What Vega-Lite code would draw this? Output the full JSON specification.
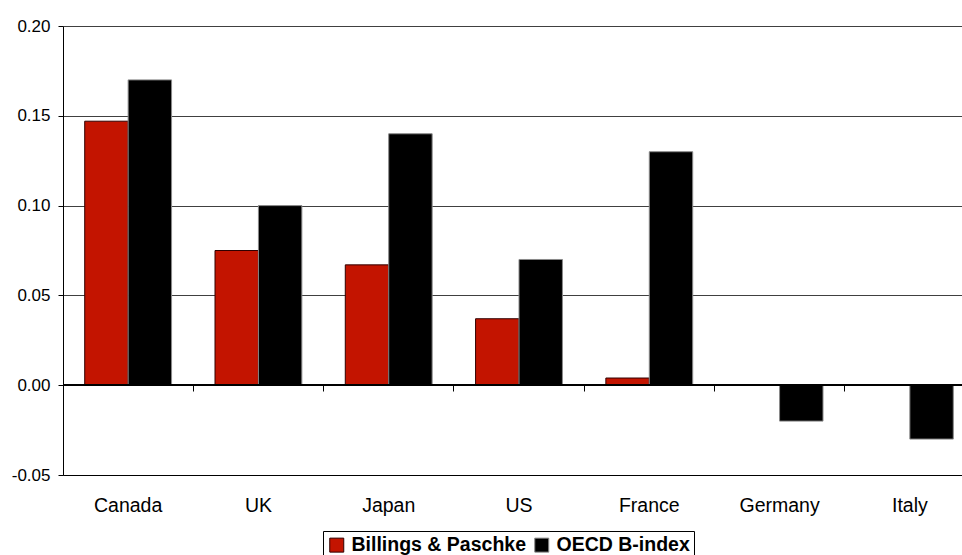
{
  "$schema": "https://vega.github.io/schema/vega-lite/v6.json",
  "width": 899,
  "height": 449,
  "autosize": {"type": "none"},
  "padding": {"left": 63, "top": 26, "right": 0, "bottom": 80},
  "background": "white",
  "config": {
    "view": {"stroke": null},
    "font": "Liberation Sans"
  },
  "data": {
    "values": [
      {"country": "Canada", "series": "Billings & Paschke", "value": 0.147},
      {"country": "Canada", "series": "OECD B-index", "value": 0.170},
      {"country": "UK", "series": "Billings & Paschke", "value": 0.075},
      {"country": "UK", "series": "OECD B-index", "value": 0.100},
      {"country": "Japan", "series": "Billings & Paschke", "value": 0.067},
      {"country": "Japan", "series": "OECD B-index", "value": 0.140},
      {"country": "US", "series": "Billings & Paschke", "value": 0.037},
      {"country": "US", "series": "OECD B-index", "value": 0.070},
      {"country": "France", "series": "Billings & Paschke", "value": 0.004},
      {"country": "France", "series": "OECD B-index", "value": 0.130},
      {"country": "Germany", "series": "OECD B-index", "value": -0.020},
      {"country": "Italy", "series": "OECD B-index", "value": -0.030}
    ]
  },
  "resolve": {"axis": {"x": "independent"}},
  "layer": [
    {
      "mark": {"type": "bar", "strokeWidth": 1},
      "encoding": {
        "x": {
          "field": "country",
          "type": "nominal",
          "scale": {
            "domain": ["Canada", "UK", "Japan", "US", "France", "Germany", "Italy"],
            "range": [0, 912],
            "paddingInner": 0,
            "paddingOuter": 0
          },
          "axis": {
            "orient": "bottom",
            "title": null,
            "labelAngle": 0,
            "labelFontSize": 19.5,
            "labelColor": "black",
            "labelPadding": 21,
            "ticks": false,
            "tickSize": 0,
            "domain": true,
            "domainColor": "black",
            "domainWidth": 1,
            "grid": false
          }
        },
        "xOffset": {
          "field": "series",
          "type": "nominal",
          "scale": {"domain": ["Billings & Paschke", "OECD B-index"], "paddingInner": 0, "paddingOuter": 0.5}
        },
        "y": {
          "field": "value",
          "type": "quantitative",
          "scale": {"domain": [-0.05, 0.2], "nice": false, "zero": false},
          "axis": {
            "title": null,
            "values": [-0.05, 0, 0.05, 0.1, 0.15, 0.2],
            "labelExpr": "datum.value < 0 ? '-' + format(-datum.value, '.2f') : format(datum.value, '.2f')",
            "labelFontSize": 17,
            "labelColor": "black",
            "labelPadding": 8,
            "tickSize": 5,
            "tickColor": "black",
            "domainColor": "black",
            "grid": true,
            "gridColor": "#404040",
            "gridOpacity": 1,
            "gridWidth": 1
          }
        },
        "fill": {
          "field": "series",
          "type": "nominal",
          "scale": {"domain": ["Billings & Paschke", "OECD B-index"], "range": ["#c31400", "#000000"]},
          "legend": {
            "title": null,
            "orient": "none",
            "legendX": 260,
            "legendY": 505,
            "direction": "horizontal",
            "symbolType": "square",
            "symbolSize": 196,
            "symbolStrokeColor": "black",
            "symbolStrokeWidth": 1,
            "symbolOpacity": 1,
            "labelFontSize": 19.5,
            "labelFontWeight": "bold",
            "labelColor": "black",
            "labelLimit": 400,
            "labelOffset": 5,
            "columnPadding": 6,
            "padding": 4,
            "strokeColor": "black",
            "fillColor": "white"
          }
        },
        "stroke": {
          "field": "series",
          "type": "nominal",
          "scale": {"domain": ["Billings & Paschke", "OECD B-index"], "range": ["#300000", "#8a8a8a"]},
          "legend": null
        }
      }
    },
    {
      "mark": {"type": "point", "opacity": 0},
      "encoding": {
        "x": {
          "field": "country",
          "type": "nominal",
          "axis": {
            "orient": "bottom",
            "title": null,
            "offset": -90,
            "labels": false,
            "domain": false,
            "ticks": true,
            "tickSize": 6,
            "tickColor": "black",
            "tickWidth": 1,
            "bandPosition": 0,
            "grid": false
          }
        },
        "y": {"datum": 0}
      }
    },
    {
      "mark": {"type": "rule", "color": "black", "strokeWidth": 1},
      "encoding": {"y": {"datum": 0}}
    }
  ]
}
